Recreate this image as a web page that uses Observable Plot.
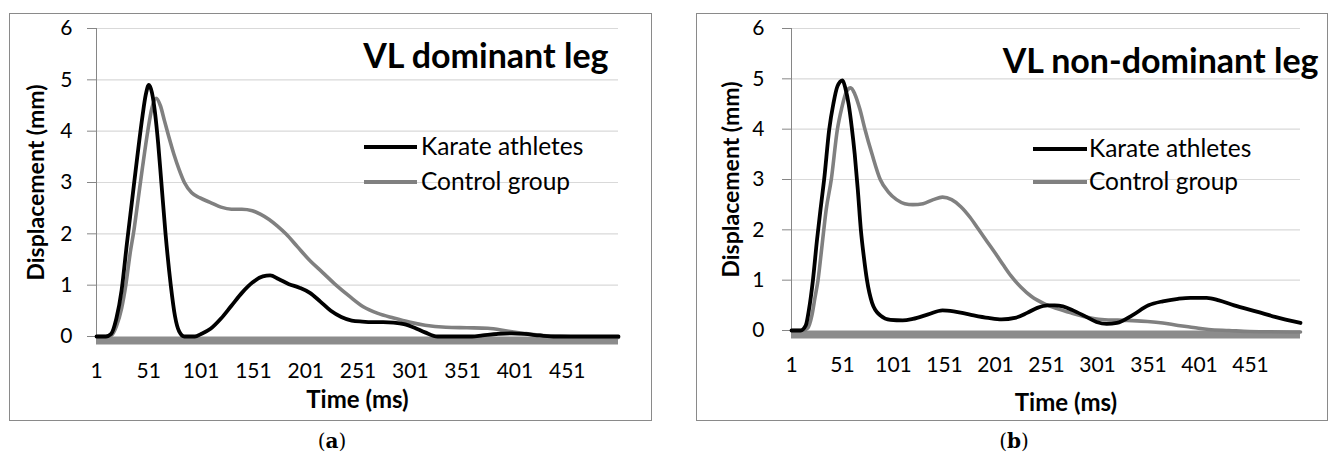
<!DOCTYPE html>
<html><head><meta charset="utf-8">
<script src="https://cdn.jsdelivr.net/npm/d3@7"></script>
<script src="https://cdn.jsdelivr.net/npm/@observablehq/plot@0.6"></script>
<style>
body{margin:0;background:#fff;width:1334px;height:456px;position:relative;overflow:hidden;font-family:Lato,"Open Sans",sans-serif}
.box{position:absolute;border:1px solid #8a8a8a;box-sizing:border-box}
.wrap{position:absolute}
.leg{position:absolute;font-size:24.5px;color:#000;white-space:nowrap;line-height:1}
.sw{position:absolute;height:4px}
.cap{position:absolute;font-family:"DejaVu Serif",serif;font-size:20px;transform:translateX(-50%);white-space:nowrap;line-height:1}
</style>
</head><body>
<script>
// ---- data ----
const xTicks = [1, 51, 101, 151, 201, 251, 301, 351, 401, 451];
const yTicks = [0, 1, 2, 3, 4, 5, 6];
const seriesNames = ["Karate athletes", "Control group"];
const panelTitles = ["VL dominant leg", "VL non-dominant leg"];
const captions = ["a", "b"];

// Panel (a) — dominant leg
const timeKarateA = [1,10,15,20,25,30,35,40,45,48,51,54,57,60,63,67,72,76,80,85,95,101,110,120,130,140,150,160,167,175,185,195,205,215,225,235,245,255,265,275,285,295,305,315,327,340,360,370,385,398,410,425,440,500];
const dispKarateA = [0,0,0.05,0.35,0.9,1.8,2.65,3.5,4.3,4.7,4.9,4.75,4.35,3.75,3.0,2.0,1.0,0.4,0.1,0,0,0.05,0.15,0.35,0.6,0.85,1.05,1.17,1.19,1.12,1.02,0.95,0.85,0.68,0.5,0.38,0.31,0.29,0.28,0.28,0.27,0.24,0.17,0.08,0,0,0,0.02,0.05,0.06,0.05,0.02,0,0];
const timeControlA = [1,10,15,20,25,29,33,37,41,45,50,54,58,62,66,70,75,80,85,92,100,111,120,130,140,150,158,166,174,182,193,204,217,230,243,256,270,285,300,315,335,355,375,395,410,428,450,500];
const dispControlA = [0,0,0.02,0.2,0.55,1.0,1.6,2.1,2.7,3.3,4.0,4.45,4.64,4.5,4.2,3.9,3.55,3.25,3.0,2.8,2.7,2.6,2.52,2.48,2.48,2.45,2.38,2.28,2.15,2.0,1.75,1.5,1.25,1.0,0.78,0.58,0.45,0.36,0.28,0.22,0.18,0.17,0.16,0.1,0.06,0.02,0,-0.02];

// Panel (b) — non-dominant leg
const timeKarateB = [1,10,15,18,22,26,30,33,38,42,46,51,54,57,60,63,66,69,72,75,80,88,98,110,120,135,149,160,175,194,207,220,232,242,252,259,267,277,290,300,310,320,335,351,365,380,392,408,420,435,458,475,500];
const dispKarateB = [0,0,0.1,0.4,1.0,1.8,2.5,3.0,4.0,4.5,4.85,4.97,4.8,4.5,4.05,3.5,2.8,2.0,1.45,1.0,0.55,0.3,0.21,0.2,0.23,0.32,0.4,0.38,0.32,0.25,0.22,0.25,0.35,0.45,0.5,0.5,0.48,0.4,0.27,0.17,0.13,0.15,0.3,0.5,0.58,0.63,0.65,0.65,0.6,0.5,0.37,0.27,0.15];
const timeControlB = [1,12,17,21,24,27,31,35,40,46,50,55,59,63,68,73,80,88,96,104,112,120,130,140,149,158,167,176,184,193,202,209,216,226,236,250,262,275,290,305,330,350,365,380,395,410,430,450,500];
const dispControlB = [0,0,0.05,0.3,0.65,1.0,1.7,2.4,3.0,4.0,4.4,4.75,4.82,4.7,4.4,4.0,3.5,3.0,2.75,2.6,2.52,2.5,2.52,2.6,2.65,2.6,2.46,2.25,2.02,1.76,1.5,1.29,1.09,0.86,0.68,0.52,0.43,0.35,0.27,0.22,0.2,0.18,0.15,0.1,0.06,0.02,0,-0.02,-0.03];

const toRows = (ts, vs) => ts.map((t, i) => ({t, v: vs[i]}));

const panels = [
  {box:[9,13,643,408], svg:[10,14,642,406], m:[14,34,84,86], karate: toRows(timeKarateA, dispKarateA), control: toRows(timeControlA, dispControlA),
   title: panelTitles[0], titleDx:-10, titleDy:29, tickPad:15, xlabDx:0, xlabDy:64, ylabDx:-60,
   leg:{x1:364, x2:417, y:[147,182], tx:421}, cap:[332,431], capText: captions[0]},
  {box:[696,13,632,408], svg:[697,14,630,406], m:[14,27,90,94], karate: toRows(timeKarateB, dispKarateB), control: toRows(timeControlB, dispControlB),
   title: panelTitles[1], titleDx:18, titleDy:34, tickPad:18, xlabDx:20, xlabDy:73, ylabDx:-60,
   leg:{x1:1033, x2:1087, y:[149,182], tx:1089}, cap:[1014,431], capText: captions[1]}
];

const colors = ["#000000", "#808080"];

for (const p of panels) {
  const box = document.createElement("div");
  box.className = "box";
  Object.assign(box.style, {left:p.box[0]+"px", top:p.box[1]+"px", width:p.box[2]+"px", height:p.box[3]+"px"});
  document.body.appendChild(box);

  const chart = Plot.plot({
    width: p.svg[2], height: p.svg[3],
    marginTop: p.m[0], marginRight: p.m[1], marginBottom: p.m[2], marginLeft: p.m[3],
    style: {fontFamily: "Lato, 'Open Sans', sans-serif", fontSize: "21px", color: "#000", background: "transparent", overflow: "visible"},
    x: {domain: [1, 500]},
    y: {domain: [0, 6]},
    marks: [
      Plot.gridY(yTicks.slice(1), {stroke: "#d9d9d9", strokeOpacity: 1, strokeWidth: 1.2}),
      Plot.ruleY([0], {stroke: "#8c8c8c", strokeWidth: 8, dy: 4}),
      Plot.ruleX([1], {stroke: "#868686", strokeWidth: 1}),
      Plot.axisY({ticks: yTicks, tickFormat: d => String(d), tickSize: 9, tickPadding: p.tickPad, stroke: "#868686", fill: "#000", label: null, fontSize: 21}),
      Plot.axisX({ticks: xTicks, tickFormat: d => String(d), tickSize: 0, tickPadding: 27, label: null, fill: "#000", fontSize: 21}),
      Plot.line(p.control, {x: "t", y: "v", stroke: colors[1], strokeWidth: 3.6, curve: "monotone-x"}),
      Plot.line(p.karate, {x: "t", y: "v", stroke: colors[0], strokeWidth: 3.8, curve: "monotone-x"}),
      Plot.text([p.title], {frameAnchor: "top-right", textAnchor: "end", lineAnchor: "middle", dx: p.titleDx, dy: p.titleDy, fontSize: 34, fontWeight: "bold", fill: "#000"}),
      Plot.text(["Time (ms)"], {frameAnchor: "bottom", textAnchor: "middle", lineAnchor: "middle", dx: p.xlabDx, dy: p.xlabDy, fontSize: 24, fontWeight: "bold", fill: "#000"}),
      Plot.text(["Displacement (mm)"], {frameAnchor: "left", textAnchor: "middle", lineAnchor: "middle", dx: p.ylabDx, rotate: -90, fontSize: 23, fontWeight: "bold", fill: "#000"})
    ]
  });
  const wrap = document.createElement("div");
  wrap.className = "wrap";
  Object.assign(wrap.style, {left:p.svg[0]+"px", top:p.svg[1]+"px"});
  wrap.appendChild(chart);
  document.body.appendChild(wrap);

  seriesNames.forEach((name, i) => {
    const sw = document.createElement("div");
    sw.className = "sw";
    Object.assign(sw.style, {left:p.leg.x1+"px", top:(p.leg.y[i]-2)+"px", width:(p.leg.x2-p.leg.x1)+"px", background: colors[i]});
    document.body.appendChild(sw);
    const t = document.createElement("div");
    t.className = "leg";
    t.textContent = name;
    Object.assign(t.style, {left:p.leg.tx+"px", top:(p.leg.y[i]-13)+"px"});
    document.body.appendChild(t);
  });

  const cap = document.createElement("div");
  cap.className = "cap";
  cap.innerHTML = "(<b>" + p.capText + "</b>)";
  Object.assign(cap.style, {left:p.cap[0]+"px", top:p.cap[1]+"px"});
  document.body.appendChild(cap);
}
</script>
</body></html>
